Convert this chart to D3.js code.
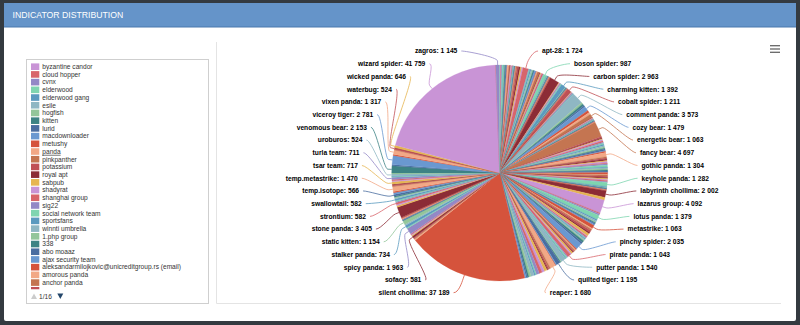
<!DOCTYPE html>
<html>
<head>
<meta charset="utf-8">
<script src="https://cdn.jsdelivr.net/npm/d3@7"></script>
<style>
  html, body { margin: 0; padding: 0; background: #343a40; }
  svg { display: block; font-family: "Liberation Sans", Arial, Helvetica, sans-serif; }
</style>
</head>
<body>
<svg id="chart" width="800" height="325"></svg>
<script>
// ---- data ---------------------------------------------------------------
const chartTitle = "INDICATOR DISTRIBUTION";
const legendPageCount = 16;
const hoveredLegendItem = "panda";

const palette = ["#c994d6", "#d8656b", "#9388c6", "#7fd5b0", "#5b9abf", "#8fb7c3",
  "#93c69a", "#3d8384", "#4a6da0", "#6a98d0", "#d5533c", "#f2a886",
  "#c47551", "#c05056", "#8c2c36", "#e6b550"];

// pinned groups, listed first
const pinnedNames = ["byzantine candor", "cloud hopper", "cvnx", "elderwood", "elderwood gang",
  "esile", "hogfish", "kitten", "lurid", "macdownloader", "metushy", "panda", "pinkpanther",
  "potassium", "royal apt", "sabpub", "shadyrat", "shanghai group", "sig22",
  "social network team", "sportsfans", "winnti umbrella"];
const pinnedValues = [310, 185, 240, 420, 160, 95, 130, 275, 340, 120, 60, 480, 150,
  210, 90, 70, 390, 260, 45, 110, 80, 230];

// 0-9, a-c
const groupAcNames = ["1.php group", "338", "abo moaaz", "ajax security team",
  "aleksandarmilojkovic@unicreditgroup.rs (email)", "amorous panda", "anchor panda",
  "apt-1", "apt-10", "apt-17", "apt-27", "apt-28", "apt-3", "apt-30", "apt-32", "apt-33",
  "apt-34", "apt-41", "aquatic panda", "aurora panda", "axiom", "bamboo spider",
  "berserk bear", "bitter", "black vine", "blacktech", "blind eagle", "blue mockingbird",
  "bookworm", "boson spider", "bronze butler", "buckeye", "cadelle", "cadet blizzard",
  "calisto", "calypso", "camaro dragon", "candiru", "caracal kitten", "carbanak",
  "carbon spider", "careto", "chafer", "chalkwasp", "chamelgang", "charcoal typhoon",
  "charming kitten", "chimera", "chrysene", "circuit panda", "clever kitten", "cloud atlas",
  "cloudy omega", "clover", "cobalt dickens", "cobalt spider", "cobra venom", "codoso",
  "cold river", "colibri", "comet panda", "comfoo", "commando cat", "comment panda",
  "confucius", "cosmic wolf", "cotton sandstorm", "cozy bear"];
const groupAcValues = [35, 120, 65, 180,
  25, 140, 310,
  480, 520, 440, 385, 1724, 180, 240, 410, 350,
  260, 320, 150, 550, 120, 280,
  550, 140, 210, 330, 180, 430,
  160, 987, 160, 120, 100, 90,
  110, 180, 130, 140, 100, 186,
  2963, 210, 250, 80, 150, 340,
  1392, 140, 110, 120, 150, 95,
  80, 70, 150, 1211, 120, 150,
  190, 150, 200, 140, 137, 3573,
  520, 600, 480, 1479];

// d-k
const groupDkNames = ["darkhotel", "deep panda", "energetic bear", "energy spider",
  "enigma spider", "epic turla", "equation group", "eternal panda", "evasive panda",
  "evil corp", "evilnum", "exotic lily", "eye pyramid", "factor panda", "fakeupdates",
  "fallout team", "famous chollima", "fanatic panda", "fancy bear", "ferocious kitten",
  "fin11", "fin4", "fin6", "fin7", "fin8", "flying kitten", "fox kitten", "gallium",
  "gamaredon", "ghost jackal", "goblin panda", "gold dragon", "gorgon group", "gothic panda",
  "graceful spider", "hades", "hafnium", "hammer panda", "helix kitten", "hellsing",
  "hexane", "hidden cobra", "honeymyte", "hurricane panda", "icefog", "imperial kitten",
  "inception", "indigo zebra", "indrik spider", "infy", "iron tiger", "jackal spider",
  "judgment panda", "karma panda", "kasablanka", "ke3chang", "keyboy", "keyhole panda",
  "kimsuky", "kinsing", "knotweed", "konni", "korplug", "kraken", "kryptonite panda",
  "kuluoz", "kungfu kitten"];
const groupDkValues = [720, 653, 1063, 80,
  100, 120, 180, 90, 110,
  140, 160, 90, 100, 124, 120,
  100, 150, 110, 4697, 380,
  340, 210, 450, 490, 270, 310, 420, 360,
  470, 230, 465, 240, 400, 1304,
  380, 290, 520, 290, 460, 240,
  330, 610, 270, 280, 350, 370,
  280, 180, 560, 150, 430, 340,
  310, 310, 290, 390, 210, 1282,
  300, 90, 110, 150, 120, 130, 160,
  100, 100];

// l-r
const groupLrNames = ["lab dookhtegan", "labyrinth chollima", "lamberts", "lazarus group",
  "leafminer", "leviathan", "lotus panda", "lucky mouse", "magic hound", "mango sandstorm",
  "marbled dust", "menupass", "mercury", "metastrike", "mofang", "molerats", "muddywater",
  "mummy spider", "mustang panda", "mysterious elephant", "naikon", "nemesis kitten",
  "neodymium", "nickel", "nightshade panda", "numbered panda", "oceanlotus", "oilrig",
  "pinchy spider", "pine sandstorm", "pink hydra", "pinkfoot", "pinklotus", "pioneer kitten",
  "pipe panda", "piranha", "pirate panda", "pitty tiger", "platinum", "poison carp",
  "putter panda", "pyrite sandstorm", "quantum spider", "quilted tiger", "rampant kitten",
  "rancor", "reaper", "red apollo", "red delta", "refined kitten", "rocket kitten"];
const groupLrValues = [56, 2002, 858, 4092,
  310, 490, 1379, 380, 450, 290,
  260, 320, 360, 1063, 310, 430, 620,
  540, 780, 210, 380, 260,
  190, 350, 230, 290, 610, 580,
  2035, 418, 240, 390, 280, 300,
  480, 410, 1043, 330, 420, 223,
  1540, 200, 258, 1195, 320,
  195, 1680, 470, 380, 330, 850];

// s-z
const groupSzNames = ["salty spider", "samurai panda", "sandworm", "saturn spider",
  "scarlet mimic", "scattered spider", "sea turtle", "shell crew", "sidewinder",
  "signal spider", "silent chollima", "silverterrier", "skeleton spider", "smoky spider",
  "sofacy", "solar spider", "sowbug", "sparkling goblin", "spicy panda", "sprite spider",
  "stalker panda", "star blizzard", "static kitten", "stealth falcon", "stealth mango",
  "stealth soldier", "stickyrat", "stinger", "stinkbug", "stolen pencil", "stone panda",
  "storm-0558", "stray kitten", "strontium", "suckfly", "sunshop", "swallowtail", "taidoor",
  "tapaoux", "temp.hermit", "temp.isotope", "temp.jumper", "temp.lion", "temp.metastrike",
  "temp.mixmaster", "temp.periscope", "temp.veles", "tsar team", "tunnel spider",
  "turbine panda", "turla team", "twisted panda", "unc1151", "uroburos", "velvet chollima",
  "venomous bear", "venus spider", "viceroy tiger", "vicious panda", "vixen panda",
  "volt typhoon", "waterbug", "whitefly", "wicked panda", "wizard spider", "wocao",
  "zagros", "zirconium"];
const groupSzValues = [780, 900, 960, 300,
  420, 980, 680, 470, 380,
  454, 37189, 310, 288, 260,
  581, 320, 290, 248, 1963, 343,
  734, 400, 1154, 200, 150,
  154, 130, 170, 150, 190, 3405,
  480, 378, 582, 272, 300, 582, 330,
  210, 318, 566, 470, 388, 1470,
  260, 310, 230, 717, 350,
  336, 711, 248, 210, 524, 343,
  2153, 400, 2781, 343, 1317,
  172, 524, 114, 646, 41759, 57,
  1145, 57];

// ---- layout -------------------------------------------------------------
const W = 800, H = 325;
const names = [].concat(pinnedNames, groupAcNames, groupDkNames, groupLrNames, groupSzNames);
const values = [].concat(pinnedValues, groupAcValues, groupDkValues, groupLrValues, groupSzValues);
const data = names.map((n, i) => ({ name: n, value: values[i], color: palette[i % palette.length] }));

const svg = d3.select("#chart");
const fmt = v => d3.format(",")(v).replace(/,/g, " ");

// card and header
svg.append("rect").attr("x", 4).attr("y", 3).attr("width", 792).attr("height", 318)
  .attr("rx", 2).attr("fill", "#ffffff");
svg.append("rect").attr("x", 4).attr("y", 3).attr("width", 792).attr("height", 24)
  .attr("fill", "#6594c9");
svg.append("line").attr("x1", 4).attr("x2", 796).attr("y1", 27).attr("y2", 27)
  .attr("stroke", "#4a78ad").attr("stroke-width", 1);
svg.append("text").attr("x", 12.6).attr("y", 18)
  .attr("fill", "#ffffff").attr("font-size", 8.7).text(chartTitle);

// chart panel edges
svg.append("line").attr("x1", 216.5).attr("x2", 216.5).attr("y1", 42).attr("y2", 303.5)
  .attr("stroke", "#e4e4e4");
svg.append("line").attr("x1", 216.5).attr("x2", 781).attr("y1", 303.5).attr("y2", 303.5)
  .attr("stroke", "#e4e4e4");

// context menu button
const menu = svg.append("g").attr("stroke", "#666").attr("stroke-width", 1.3);
[45.7, 49, 52.3].forEach(y => menu.append("line")
  .attr("x1", 770).attr("x2", 780).attr("y1", y).attr("y2", y));

// ---- legend ---------------------------------------------------------------
const legend = { x: 26.5, y: 59.5, w: 182, h: 244, rowTop: 66.7, rowGap: 7.71, fullRows: 29 };
svg.append("rect").attr("x", legend.x).attr("y", legend.y)
  .attr("width", legend.w).attr("height", legend.h)
  .attr("fill", "none").attr("stroke", "#cfcfcf");

svg.append("clipPath").attr("id", "legendClip").append("rect")
  .attr("x", 27).attr("y", 60).attr("width", 181).attr("height", 229.3);

// full rows, then the first swatch of the next row peeking under the clip
const legendItems = svg.append("g").attr("clip-path", "url(#legendClip)")
  .selectAll("g").data(data.slice(0, legend.fullRows + 1)).join("g")
  .attr("transform", (d, i) => `translate(0,${legend.rowTop + i * legend.rowGap})`);
legendItems.append("rect").attr("x", 31).attr("y", -3.3).attr("width", 8.3).attr("height", 6.6)
  .attr("fill", d => d.color);
legendItems.filter((d, i) => i < legend.fullRows).append("text")
  .attr("x", 42.3).attr("y", 2.3)
  .attr("font-size", 6.6).attr("fill", "#333")
  .attr("text-decoration", d => d.name === hoveredLegendItem ? "underline" : null)
  .text(d => d.name);

// pager
svg.append("path").attr("d", "M31,299 L37,299 L34,293.5 Z").attr("fill", "#cccccc");
svg.append("text").attr("x", 39).attr("y", 299.2).attr("font-size", 6.6).attr("fill", "#333")
  .text(`1/${legendPageCount}`);
svg.append("path").attr("d", "M57.3,293.5 L63.3,293.5 L60.3,299 Z").attr("fill", "#24476b");

// ---- pie --------------------------------------------------------------------
const cx = 499.7, cy = 173, r = 108;
const labelDistance = 20;
const arcs = d3.pie().sort(null).value(d => d.value)(data);
const arcGen = d3.arc().innerRadius(0).outerRadius(r);

const pieG = svg.append("g").attr("transform", `translate(${cx},${cy})`);
pieG.selectAll("path").data(arcs).join("path")
  .attr("d", arcGen)
  .attr("fill", d => d.data.color)
  .attr("stroke", d => d.data.color)
  .attr("stroke-width", 0.25);

// data labels: the largest slices on each side get a slot
const labelTop = 51, labelBottom = 292.7, labelGap = 12.72;
const capacity = Math.floor((labelBottom - labelTop) / labelGap + 1e-6) + 1;
const ellA = 138, ellB = 127;

arcs.forEach(a => {
  a.mid = (a.startAngle + a.endAngle) / 2;
  a.right = a.mid < Math.PI;
  a.naturalY = cy - Math.cos(a.mid) * (r + labelDistance);
});

function distribute(list) {
  list.sort((p, q) => p.naturalY - q.naturalY);
  const ys = list.map(d => d.naturalY);
  for (let i = 0; i < ys.length; i++) {
    ys[i] = Math.max(ys[i], i ? ys[i - 1] + labelGap : labelTop);
  }
  for (let i = ys.length - 1; i >= 0; i--) {
    ys[i] = Math.min(ys[i], i < ys.length - 1 ? ys[i + 1] - labelGap : labelBottom);
  }
  list.forEach((d, i) => { d.labelY = ys[i]; });
  return list;
}

const labelled = [];
[true, false].forEach(side => {
  const chosen = arcs.filter(a => a.right === side)
    .sort((p, q) => q.value - p.value)
    .slice(0, capacity);
  labelled.push(...distribute(chosen));
});

const labelG = svg.append("g");
labelled.forEach(a => {
  const dy = a.labelY - cy;
  const ex = ellA * Math.sqrt(Math.max(0, 1 - (dy / ellB) * (dy / ellB)));
  const sign = a.right ? 1 : -1;
  const sx = cx + sign * ex;
  const tx = cx + Math.sin(a.mid) * r, ty = cy - Math.cos(a.mid) * r;
  const bo = r + labelDistance / 5;
  const bx = cx + Math.sin(a.mid) * bo, by = cy - Math.cos(a.mid) * bo;
  const path = `M${sx},${a.labelY} C${sx - sign * 5},${a.labelY} ${2 * bx - tx},${2 * by - ty} ${bx},${by} L${tx},${ty}`;
  labelG.append("path").attr("d", path).attr("fill", "none")
    .attr("stroke", a.data.color).attr("stroke-width", 0.8);
  labelG.append("text")
    .attr("x", sx + sign * 4).attr("y", a.labelY).attr("dy", "0.35em")
    .attr("text-anchor", a.right ? "start" : "end")
    .attr("font-size", 6.7).attr("font-weight", "bold").attr("fill", "#000")
    .text(`${a.data.name}: ${fmt(a.data.value)}`);
});
</script>
</body>
</html>
